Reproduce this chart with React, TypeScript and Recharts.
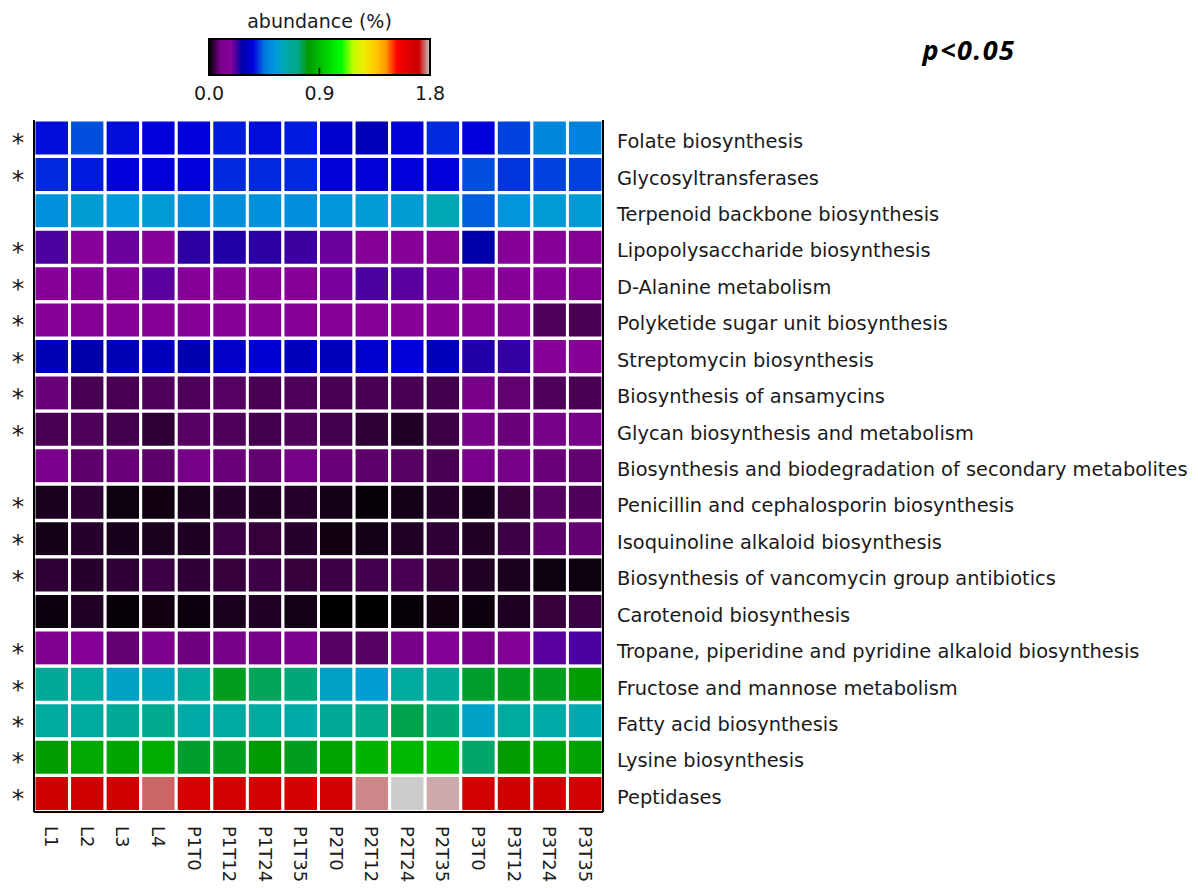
import React from 'react';
import { BarChart, Bar, Cell, XAxis, YAxis } from 'recharts';

const columns = ['L1', 'L2', 'L3', 'L4', 'P1T0', 'P1T12', 'P1T24', 'P1T35', 'P2T0', 'P2T12', 'P2T24', 'P2T35', 'P3T0', 'P3T12', 'P3T24', 'P3T35'];

const pathways = [
  'Folate biosynthesis',
  'Glycosyltransferases',
  'Terpenoid backbone biosynthesis',
  'Lipopolysaccharide biosynthesis',
  'D-Alanine metabolism',
  'Polyketide sugar unit biosynthesis',
  'Streptomycin biosynthesis',
  'Biosynthesis of ansamycins',
  'Glycan biosynthesis and metabolism',
  'Biosynthesis and biodegradation of secondary metabolites',
  'Penicillin and cephalosporin biosynthesis',
  'Isoquinoline alkaloid biosynthesis',
  'Biosynthesis of vancomycin group antibiotics',
  'Carotenoid biosynthesis',
  'Tropane, piperidine and pyridine alkaloid biosynthesis',
  'Fructose and mannose metabolism',
  'Fatty acid biosynthesis',
  'Lysine biosynthesis',
  'Peptidases',
];

const significant = [true, true, false, true, true, true, true, true, true, false, true, true, true, false, true, true, true, true, true];

// abundance (%) per pathway, in column order
const folate = [0.37, 0.42, 0.37, 0.36, 0.36, 0.38, 0.37, 0.38, 0.33, 0.30, 0.35, 0.39, 0.36, 0.41, 0.49, 0.48];
const glycosyltransferases = [0.39, 0.38, 0.36, 0.36, 0.36, 0.39, 0.39, 0.39, 0.35, 0.35, 0.36, 0.36, 0.42, 0.40, 0.41, 0.41];
const terpenoid = [0.52, 0.56, 0.54, 0.55, 0.51, 0.51, 0.52, 0.51, 0.53, 0.55, 0.56, 0.61, 0.43, 0.53, 0.55, 0.55];
const lipopolysaccharide = [0.22, 0.18, 0.20, 0.18, 0.24, 0.25, 0.24, 0.23, 0.20, 0.17, 0.17, 0.16, 0.27, 0.17, 0.17, 0.16];
const dAlanine = [0.17, 0.17, 0.17, 0.21, 0.17, 0.17, 0.17, 0.17, 0.19, 0.22, 0.21, 0.19, 0.17, 0.17, 0.17, 0.16];
const polyketide = [0.17, 0.16, 0.17, 0.17, 0.17, 0.17, 0.17, 0.17, 0.17, 0.17, 0.17, 0.17, 0.17, 0.15, 0.06, 0.055];
const streptomycin = [0.29, 0.27, 0.29, 0.30, 0.28, 0.32, 0.34, 0.30, 0.30, 0.33, 0.35, 0.30, 0.25, 0.235, 0.17, 0.17];
const ansamycins = [0.08, 0.055, 0.055, 0.06, 0.06, 0.065, 0.055, 0.06, 0.055, 0.055, 0.055, 0.05, 0.095, 0.075, 0.06, 0.055];
const glycan = [0.055, 0.06, 0.05, 0.035, 0.065, 0.06, 0.05, 0.06, 0.05, 0.035, 0.025, 0.045, 0.09, 0.08, 0.09, 0.09];
const secondaryMetabolites = [0.10, 0.07, 0.08, 0.07, 0.09, 0.08, 0.075, 0.09, 0.08, 0.07, 0.065, 0.055, 0.10, 0.09, 0.08, 0.075];
const penicillin = [0.02, 0.035, 0.01, 0.012, 0.02, 0.03, 0.025, 0.028, 0.015, 0.004, 0.015, 0.03, 0.018, 0.04, 0.065, 0.06];
const isoquinoline = [0.015, 0.03, 0.018, 0.02, 0.022, 0.045, 0.04, 0.03, 0.012, 0.015, 0.025, 0.035, 0.025, 0.045, 0.07, 0.075];
const vancomycin = [0.035, 0.03, 0.035, 0.045, 0.035, 0.04, 0.045, 0.04, 0.045, 0.05, 0.055, 0.04, 0.025, 0.02, 0.01, 0.01];
const carotenoid = [0.008, 0.025, 0.003, 0.012, 0.008, 0.02, 0.025, 0.015, 0.0, 0.0, 0.005, 0.012, 0.008, 0.022, 0.04, 0.045];
const tropane = [0.13, 0.17, 0.075, 0.12, 0.085, 0.09, 0.09, 0.12, 0.065, 0.065, 0.09, 0.15, 0.10, 0.15, 0.21, 0.22];
const fructose = [0.68, 0.66, 0.58, 0.60, 0.66, 0.79, 0.75, 0.73, 0.58, 0.56, 0.66, 0.67, 0.78, 0.79, 0.79, 0.82];
const fattyAcid = [0.66, 0.66, 0.68, 0.70, 0.64, 0.65, 0.66, 0.64, 0.68, 0.72, 0.76, 0.73, 0.58, 0.66, 0.64, 0.62];
const lysine = [0.82, 0.85, 0.84, 0.86, 0.78, 0.79, 0.81, 0.79, 0.84, 0.88, 0.89, 0.91, 0.74, 0.82, 0.84, 0.83];
const peptidases = [1.70, 1.69, 1.69, 1.755, 1.65, 1.67, 1.67, 1.66, 1.68, 1.77, 1.80, 1.785, 1.66, 1.69, 1.69, 1.68];

const abundance = [
  folate, glycosyltransferases, terpenoid, lipopolysaccharide, dAlanine, polyketide,
  streptomycin, ansamycins, glycan, secondaryMetabolites, penicillin, isoquinoline,
  vancomycin, carotenoid, tropane, fructose, fattyAcid, lysine, peptidases,
];

const colorbarTicks = [0.0, 0.9, 1.8];
const vmin = 0;
const vmax = 1.8;

// nipy_spectral colormap table
const NS: number[][] = [
  [0, 0, 0, 0], [0.05, 0.4667, 0, 0.5333], [0.1, 0.5333, 0, 0.6], [0.15, 0, 0, 0.6667],
  [0.2, 0, 0, 0.8667], [0.25, 0, 0.4667, 0.8667], [0.3, 0, 0.6, 0.8667], [0.35, 0, 0.6667, 0.6667],
  [0.4, 0, 0.6667, 0.5333], [0.45, 0, 0.6, 0], [0.5, 0, 0.7333, 0], [0.55, 0, 0.8667, 0],
  [0.6, 0, 1, 0], [0.65, 0.7333, 1, 0], [0.7, 0.9333, 0.9333, 0], [0.75, 1, 0.8, 0],
  [0.8, 1, 0.6, 0], [0.85, 1, 0, 0], [0.9, 0.8667, 0, 0], [0.95, 0.8, 0, 0], [1, 0.8, 0.8, 0.8],
];

const toHex = (r: number, g: number, b: number) =>
  '#' + [r, g, b].map((c) => Math.round(Math.max(0, Math.min(1, c)) * 255).toString(16).padStart(2, '0')).join('');

const cmap = (v: number) => {
  const t = Math.max(0, Math.min(1, (v - vmin) / (vmax - vmin)));
  for (let i = 1; i < NS.length; i++) {
    if (t <= NS[i][0]) {
      const a = NS[i - 1];
      const b = NS[i];
      const f = (t - a[0]) / (b[0] - a[0]);
      return toHex(a[1] + (b[1] - a[1]) * f, a[2] + (b[2] - a[2]) * f, a[3] + (b[3] - a[3]) * f);
    }
  }
  const l = NS[NS.length - 1];
  return toHex(l[1], l[2], l[3]);
};

const data = pathways.map((name, i) => ({ name, star: significant[i] ? '*' : '' }));
const colTicks = columns.map((_, j) => j + 0.5);

const LABEL_FONT = "'DejaVu Sans', sans-serif";

const ColTick = (props: any) => {
  const { x, y, payload } = props;
  const label = columns[Math.floor(payload.value)];
  return (
    <text
      x={x}
      y={y}
      transform={`rotate(90 ${x} ${y})`}
      textAnchor="start"
      dominantBaseline="central"
      fontFamily={LABEL_FONT}
      fontSize={18}
      fill="#1a1a1a"
    >
      {label}
    </text>
  );
};

const RowTick = (props: any) => {
  const { x, y, payload } = props;
  return (
    <text x={x} y={y + 10} textAnchor="start" fontFamily={LABEL_FONT} fontSize={19.4} fill="#1a1a1a">
      {payload.value}
    </text>
  );
};

const StarTick = (props: any) => {
  const { x, y, index } = props;
  if (!significant[index]) return null;
  return (
    <text x={x - 8} y={y + 13} textAnchor="middle" fontFamily={LABEL_FONT} fontSize={25} fill="#1a1a1a">
      *
    </text>
  );
};

const Colorbar = () => {
  const x0 = 209;
  const x1 = 430;
  const y0 = 39;
  const y1 = 75;
  const pos = (v: number) => x0 + ((v - vmin) / (vmax - vmin)) * (x1 - x0);
  return (
    <svg width={1198} height={110} style={{ position: 'absolute', left: 0, top: 0 }}>
      <defs>
        <linearGradient id="nipy" x1="0" x2="1" y1="0" y2="0">
          {NS.map((s, i) => (
            <stop key={i} offset={`${s[0] * 100}%`} stopColor={toHex(s[1], s[2], s[3])} />
          ))}
        </linearGradient>
      </defs>
      <text x={(x0 + x1) / 2} y={28} textAnchor="middle" fontFamily={LABEL_FONT} fontSize={19} fill="#1a1a1a">
        abundance (%)
      </text>
      <rect x={x0} y={y0} width={x1 - x0} height={y1 - y0} fill="url(#nipy)" stroke="#000" strokeWidth={2} />
      <line x1={pos(0.9)} x2={pos(0.9)} y1={y1} y2={y1 - 7} stroke="#000" strokeWidth={1.5} />
      {colorbarTicks.map((v) => (
        <text key={v} x={pos(v)} y={100} textAnchor="middle" fontFamily={LABEL_FONT} fontSize={19} fill="#1a1a1a">
          {v.toFixed(1)}
        </text>
      ))}
      <text x={969} y={60} textAnchor="middle" letterSpacing={1.5} fontFamily="'Open Sans', sans-serif" fontWeight={700} fontStyle="italic" fontSize={27} fill="#000">
        p&lt;0.05
      </text>
    </svg>
  );
};

export default function App() {
  return (
    <div style={{ position: 'absolute', left: 0, top: 0, width: 1198, height: 888, background: '#fff' }}>
      <BarChart
        width={1198}
        height={888}
        data={data}
        layout="vertical"
        margin={{ top: 120, right: 0, bottom: 0, left: 0 }}
        barCategoryGap={0}
        barGap={0}
      >
        <XAxis
          xAxisId="bottom"
          type="number"
          domain={[0, columns.length]}
          ticks={colTicks}
          interval={0}
          height={76}
          tickLine={false}
          tickSize={0}
          tickMargin={14}
          axisLine={{ stroke: '#000', strokeWidth: 2 }}
          tick={<ColTick />}
        />
        <XAxis
          xAxisId="top"
          orientation="top"
          type="number"
          domain={[0, columns.length]}
          height={0}
          tick={false}
          tickLine={false}
          axisLine={{ stroke: '#000', strokeWidth: 2 }}
        />
        <YAxis
          yAxisId="right"
          type="category"
          dataKey="name"
          orientation="right"
          width={595}
          interval={0}
          tickLine={false}
          tickSize={6}
          tickMargin={8}
          axisLine={{ stroke: '#000', strokeWidth: 2 }}
          tick={<RowTick />}
        />
        <YAxis
          yAxisId="left"
          type="category"
          dataKey="name"
          orientation="left"
          width={34}
          interval={0}
          tickLine={false}
          axisLine={{ stroke: '#000', strokeWidth: 2 }}
          tick={<StarTick />}
        />
        {columns.map((col, j) => (
          <Bar
            key={col}
            name={col}
            dataKey={() => 1}
            stackId="grid"
            xAxisId="bottom"
            yAxisId="right"
            stroke="#ffffff"
            strokeWidth={3}
            isAnimationActive={false}
          >
            {pathways.map((p, i) => (
              <Cell key={p} fill={cmap(abundance[i][j])} />
            ))}
          </Bar>
        ))}
      </BarChart>
      <Colorbar />
    </div>
  );
}
